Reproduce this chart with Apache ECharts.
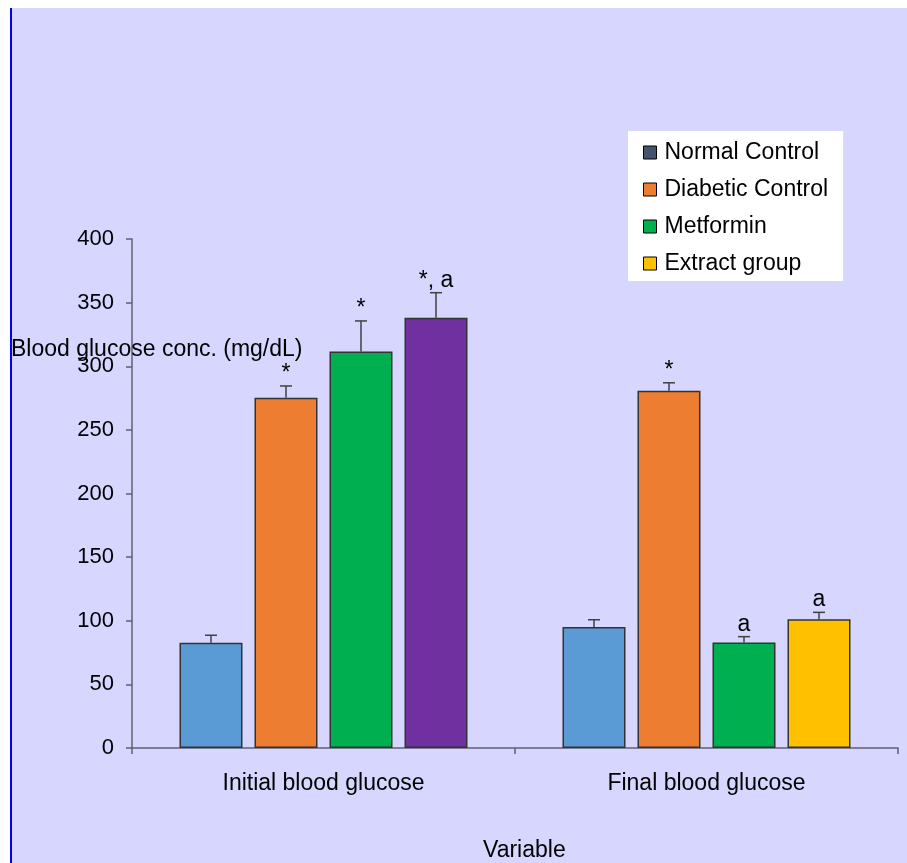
<!DOCTYPE html>
<html>
<head>
<meta charset="utf-8">
<title>Blood glucose concentration</title>
<script src="https://cdn.jsdelivr.net/npm/echarts@6/dist/echarts.min.js"></script>
<style>
  html, body { margin: 0; padding: 0; background: #ffffff; }
  #chart { width: 907px; height: 863px; }
</style>
</head>
<body>
<div id="chart"></div>
<script>
// Category labels and group names
const categories = ['Initial blood glucose', 'Final blood glucose'];
const groupNames = ['Normal Control', 'Diabetic Control', 'Metformin', 'Extract group'];

// Mean blood glucose (mg/dL) per group, [initial, final]
const normalControl = [82.7, 95.1];
const diabeticControl = [275.3, 280.8];
const metformin = [311.5, 83.0];
const extractGroup = [338.2, 101.1];

// Standard error per group, [initial, final]
const normalControlErr = [5.9, 5.7];
const diabeticControlErr = [9.2, 6.2];
const metforminErr = [24.1, 4.5];
const extractGroupErr = [19.6, 5.5];

// Significance marks above each bar, [initial, final]
const normalControlMarks = ['', ''];
const diabeticControlMarks = ['*', '*'];
const metforminMarks = ['*', 'a'];
const extractGroupMarks = ['*, a', 'a'];

// Y axis ticks
const yTicks = [0, 50, 100, 150, 200, 250, 300, 350, 400];

const means = [normalControl, diabeticControl, metformin, extractGroup];
const errs = [normalControlErr, diabeticControlErr, metforminErr, extractGroupErr];
const marks = [normalControlMarks, diabeticControlMarks, metforminMarks, extractGroupMarks];

// Fill colours: bar fill per group and category, legend swatch per group
const barColors = [
  ['#5b9bd5', '#5b9bd5'],
  ['#ed7d31', '#ed7d31'],
  ['#00b050', '#00b050'],
  ['#7030a0', '#ffc000']
];
const legendColors = ['#44546a', '#ed7d31', '#00b050', '#ffc000'];

const FONT = '"Liberation Sans", Arial, sans-serif';
const BAR_W = 63;
const BAR_GAP = 12;

const chart = echarts.init(document.getElementById('chart'), null, { renderer: 'canvas' });

const series = [];
groupNames.forEach((name, gi) => {
  series.push({
    name: name,
    type: 'bar',
    barWidth: BAR_W,
    barGap: (BAR_GAP / BAR_W * 100).toFixed(2) + '%',
    itemStyle: { color: legendColors[gi], borderColor: '#333333', borderWidth: 1.5 },
    data: means[gi].map((v, ci) => ({
      value: v,
      itemStyle: { color: barColors[gi][ci], borderColor: '#333333', borderWidth: 1.5 }
    })),
    z: 2
  });
});

// Upper error whiskers with significance marks, one custom series per group
groupNames.forEach((name, gi) => {
  const offset = (gi - (groupNames.length - 1) / 2) * (BAR_W + BAR_GAP);
  series.push({
    type: 'custom',
    name: name + ' error',
    silent: true,
    z: 3,
    legendHoverLink: false,
    data: means[gi].map((v, ci) => [ci, v, v + errs[gi][ci]]),
    renderItem: function (params, api) {
      const ci = api.value(0);
      const base = api.coord([ci, api.value(1)]);
      const top = api.coord([ci, api.value(2)]);
      const x = base[0] + offset;
      const mark = marks[gi][ci];
      const children = [
        { type: 'line', shape: { x1: x, y1: base[1], x2: x, y2: top[1] },
          style: { stroke: '#404040', lineWidth: 1.5 } },
        { type: 'line', shape: { x1: x - 6, y1: top[1], x2: x + 6, y2: top[1] },
          style: { stroke: '#404040', lineWidth: 1.5 } }
      ];
      if (mark) {
        children.push({
          type: 'text',
          style: {
            x: x, y: top[1] - 1, text: mark,
            font: '23px ' + FONT, fill: '#000000',
            align: 'center', verticalAlign: 'bottom'
          }
        });
      }
      return { type: 'group', children: children };
    }
  });
});

const option = {
  backgroundColor: '#ffffff',
  animation: false,
  textStyle: { fontFamily: FONT },
  graphic: [
    { type: 'rect', z: -10, shape: { x: 11, y: 8, width: 896, height: 855 },
      style: { fill: '#d6d6ff' } },
    { type: 'line', z: -9, shape: { x1: 11, y1: 8, x2: 11, y2: 863 },
      style: { stroke: '#0000ff', lineWidth: 2 } },
    { type: 'text', z: 10, left: 11, top: 338,
      style: { text: 'Blood glucose conc. (mg/dL)', font: '23px ' + FONT, fill: '#000000' } },
    { type: 'text', z: 10, left: 483, top: 839,
      style: { text: 'Variable', font: '23px ' + FONT, fill: '#000000' } }
  ],
  legend: {
    orient: 'vertical',
    left: 628,
    top: 131,
    backgroundColor: '#ffffff',
    padding: [10, 15, 6, 15],
    itemGap: 14,
    itemWidth: 13,
    itemHeight: 13,
    icon: 'rect',
    textStyle: { fontSize: 23, color: '#000000', fontFamily: FONT, padding: [0, 0, 0, 3] },
    data: groupNames.map((n, gi) => ({
      name: n,
      itemStyle: { color: legendColors[gi], borderColor: '#000000', borderWidth: 1 }
    }))
  },
  grid: { left: 132, right: 9, top: 239, bottom: 115, containLabel: false },
  xAxis: {
    type: 'category',
    data: categories,
    axisLine: { lineStyle: { color: '#606070', width: 1.5 } },
    axisTick: { show: true, length: 6, lineStyle: { color: '#606070', width: 1.5 } },
    axisLabel: { fontSize: 23, color: '#000000', margin: 24, fontFamily: FONT },
    splitLine: { show: false }
  },
  yAxis: {
    type: 'value',
    min: yTicks[0],
    max: yTicks[yTicks.length - 1],
    interval: yTicks[1] - yTicks[0],
    axisLine: { show: true, lineStyle: { color: '#606070', width: 1.5 } },
    axisTick: { show: true, length: 6, lineStyle: { color: '#606070', width: 1.5 } },
    axisLabel: { fontSize: 22, color: '#000000', margin: 18, fontFamily: FONT },
    splitLine: { show: false }
  },
  series: series
};

chart.setOption(option);
</script>
</body>
</html>
